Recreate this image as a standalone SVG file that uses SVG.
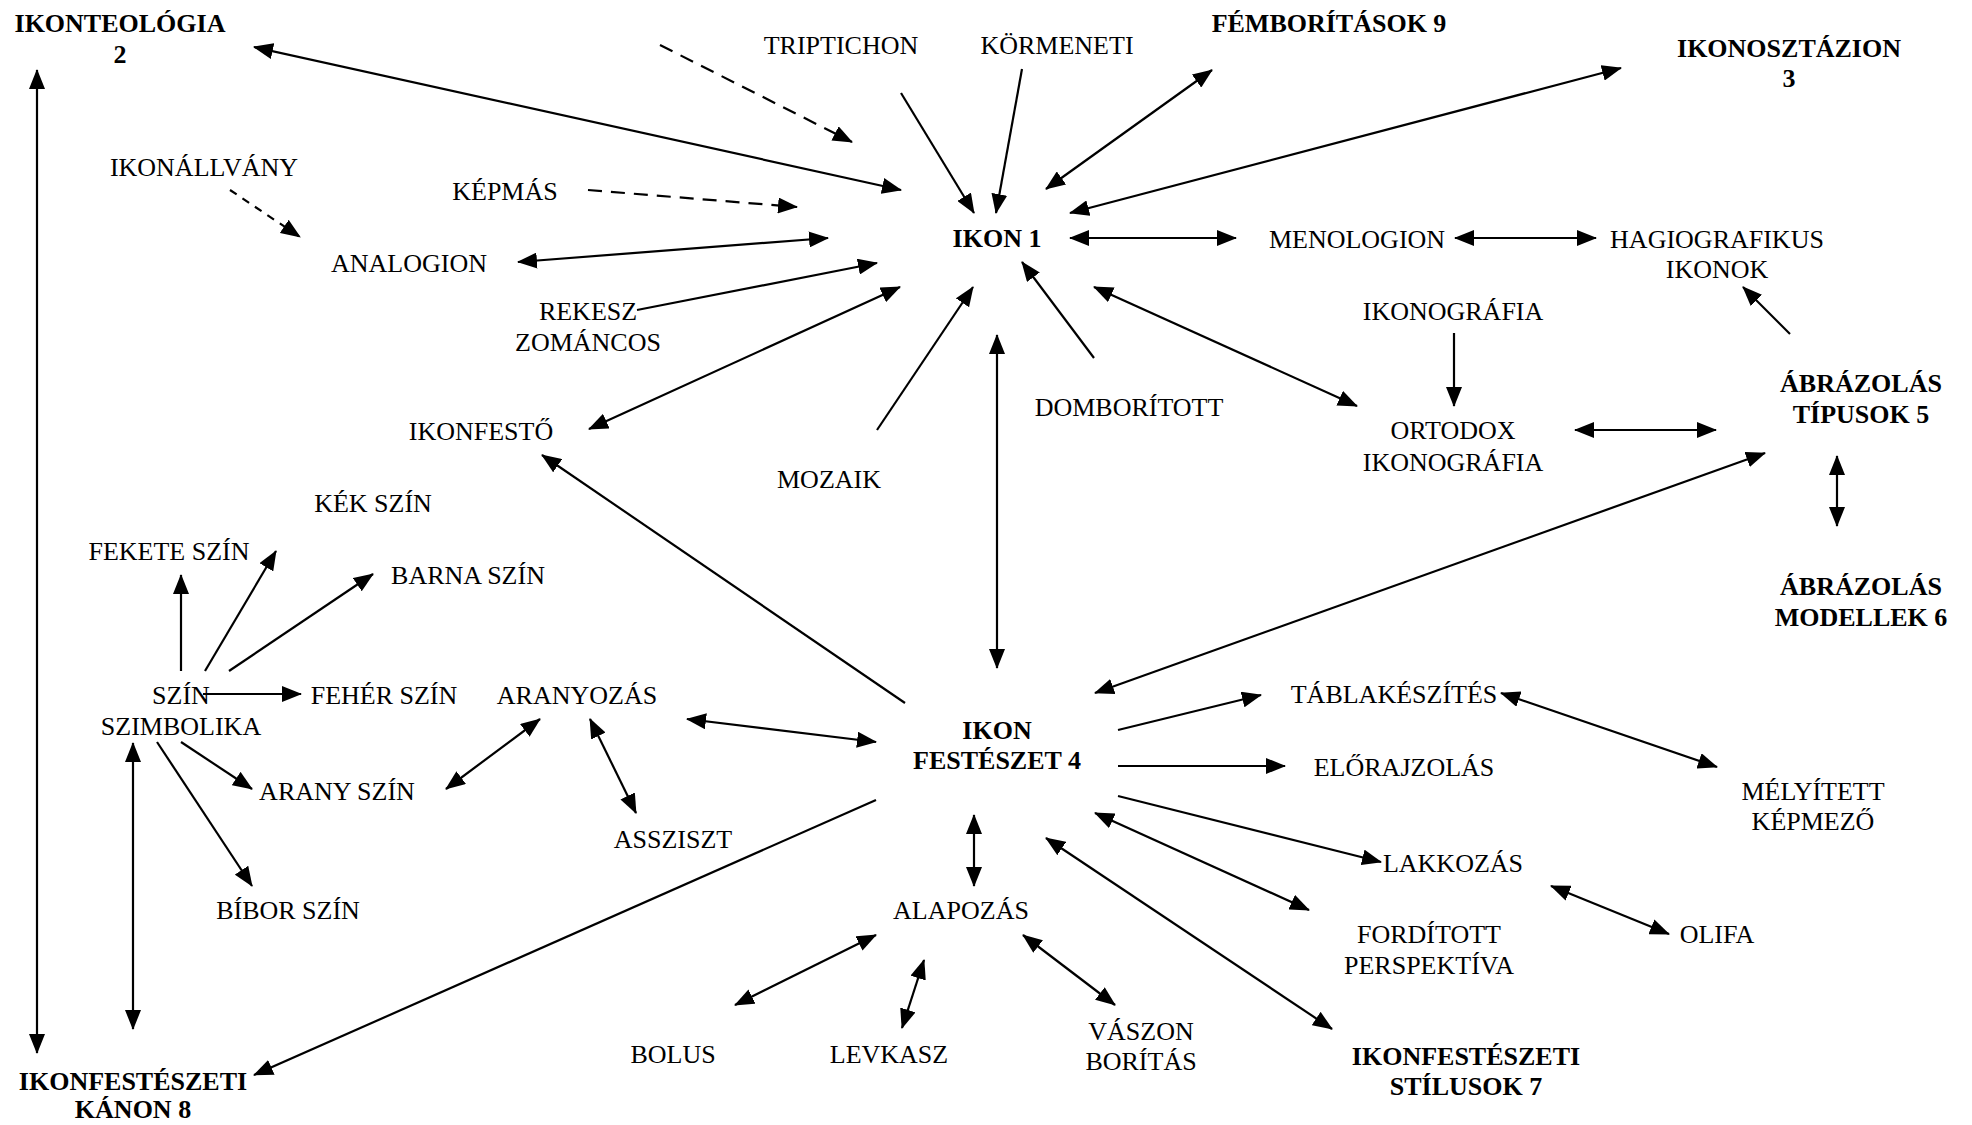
<svg xmlns="http://www.w3.org/2000/svg" width="1972" height="1125" viewBox="0 0 1972 1125">
<style>
text{font-family:"Liberation Serif","Times New Roman",serif;font-size:26px;fill:#000;text-anchor:middle}
.b{font-weight:bold}
.c line{stroke:#000;stroke-width:2.2;fill:none}
.c .one{marker-end:url(#ah)}
.c .two{marker-start:url(#ah);marker-end:url(#ah)}
.c .d1{stroke-dasharray:14 9}
.c .d2{stroke-dasharray:8 7}
</style>
<defs>
<marker id="ah" markerUnits="userSpaceOnUse" markerWidth="20" markerHeight="16" refX="19" refY="8" orient="auto-start-reverse" viewBox="0 0 20 16">
<path d="M0,0 L20,8 L0,16 z" fill="#000"/>
</marker>
</defs>
<rect width="1972" height="1125" fill="#fff"/>
<g class="c" id="connectors">
<line class="two" x1="254" y1="47" x2="901" y2="190"/>
<line class="one d1" x1="660" y1="45" x2="852" y2="142"/>
<line class="one" x1="901" y1="93" x2="974" y2="213"/>
<line class="one" x1="1022" y1="69" x2="996" y2="213"/>
<line class="two" x1="1212" y1="70" x2="1046" y2="189"/>
<line class="two" x1="1621" y1="68" x2="1070" y2="213"/>
<line class="two" x1="1070" y1="238" x2="1236" y2="238"/>
<line class="two" x1="1455" y1="238" x2="1596" y2="238"/>
<line class="one" x1="1790" y1="334" x2="1743" y2="287"/>
<line class="one" x1="1454" y1="333" x2="1454" y2="406"/>
<line class="two" x1="1094" y1="287" x2="1357" y2="406"/>
<line class="two" x1="1575" y1="430" x2="1716" y2="430"/>
<line class="two" x1="1837" y1="456" x2="1837" y2="526"/>
<line class="two" x1="1095" y1="693" x2="1765" y2="453"/>
<line class="one" x1="1094" y1="358" x2="1022" y2="262"/>
<line class="one" x1="877" y1="430" x2="973" y2="287"/>
<line class="two" x1="997" y1="668" x2="997" y2="335"/>
<line class="two" x1="589" y1="429" x2="900" y2="287"/>
<line class="one" x1="905" y1="703" x2="542" y2="455"/>
<line class="one" x1="637" y1="310" x2="877" y2="263"/>
<line class="two" x1="518" y1="262" x2="828" y2="238"/>
<line class="one d1" x1="588" y1="190" x2="797" y2="207"/>
<line class="one d2" x1="230" y1="190" x2="300" y2="237"/>
<line class="two" x1="37" y1="70" x2="37" y2="1053"/>
<line class="two" x1="133" y1="743" x2="133" y2="1029"/>
<line class="one" x1="181" y1="671" x2="181" y2="575"/>
<line class="one" x1="205" y1="671" x2="276" y2="551"/>
<line class="one" x1="229" y1="671" x2="373" y2="574"/>
<line class="one" x1="203" y1="694" x2="301" y2="694"/>
<line class="one" x1="181" y1="742" x2="252" y2="789"/>
<line class="one" x1="157" y1="742" x2="252" y2="886"/>
<line class="two" x1="446" y1="789" x2="540" y2="719"/>
<line class="two" x1="590" y1="719" x2="636" y2="813"/>
<line class="two" x1="687" y1="719" x2="876" y2="742"/>
<line class="one" x1="876" y1="800" x2="254" y2="1075"/>
<line class="two" x1="974" y1="815" x2="974" y2="886"/>
<line class="two" x1="876" y1="935" x2="735" y2="1005"/>
<line class="two" x1="924" y1="960" x2="902" y2="1028"/>
<line class="two" x1="1023" y1="935" x2="1115" y2="1005"/>
<line class="two" x1="1046" y1="838" x2="1332" y2="1029"/>
<line class="two" x1="1095" y1="813" x2="1309" y2="910"/>
<line class="one" x1="1118" y1="796" x2="1381" y2="862"/>
<line class="two" x1="1551" y1="886" x2="1669" y2="934"/>
<line class="one" x1="1118" y1="730" x2="1261" y2="695"/>
<line class="one" x1="1118" y1="766" x2="1285" y2="766"/>
<line class="two" x1="1501" y1="693" x2="1717" y2="767"/>
</g>
<g id="ikonteologia"><text class="b" x="120" y="32">IKONTEOLÓGIA</text><text class="b" x="120" y="63">2</text></g>
<g id="triptichon"><text x="841" y="54">TRIPTICHON</text></g>
<g id="kormeneti"><text x="1057" y="54">KÖRMENETI</text></g>
<g id="femboritasok"><text class="b" x="1329" y="32">FÉMBORÍTÁSOK 9</text></g>
<g id="ikonosztazion"><text class="b" x="1789" y="57">IKONOSZTÁZION</text><text class="b" x="1789" y="87">3</text></g>
<g id="ikonallvany"><text x="204" y="176">IKONÁLLVÁNY</text></g>
<g id="kepmas"><text x="505" y="200">KÉPMÁS</text></g>
<g id="ikon1"><text class="b" x="997" y="247">IKON 1</text></g>
<g id="menologion"><text x="1357" y="248">MENOLOGION</text></g>
<g id="hagiografikus"><text x="1717" y="248">HAGIOGRAFIKUS</text><text x="1717" y="278">IKONOK</text></g>
<g id="analogion"><text x="409" y="272">ANALOGION</text></g>
<g id="rekesz"><text x="588" y="320">REKESZ</text><text x="588" y="351">ZOMÁNCOS</text></g>
<g id="ikonografia"><text x="1453" y="320">IKONOGRÁFIA</text></g>
<g id="domboritott"><text x="1129" y="416">DOMBORÍTOTT</text></g>
<g id="abrazolas-tipusok"><text class="b" x="1861" y="392">ÁBRÁZOLÁS</text><text class="b" x="1861" y="423">TÍPUSOK 5</text></g>
<g id="ikonfesto"><text x="481" y="440">IKONFESTŐ</text></g>
<g id="ortodox"><text x="1453" y="439">ORTODOX</text><text x="1453" y="471">IKONOGRÁFIA</text></g>
<g id="mozaik"><text x="829" y="488">MOZAIK</text></g>
<g id="kek"><text x="373" y="512">KÉK SZÍN</text></g>
<g id="fekete"><text x="169" y="560">FEKETE SZÍN</text></g>
<g id="barna"><text x="468" y="584">BARNA SZÍN</text></g>
<g id="abrazolas-modellek"><text class="b" x="1861" y="595">ÁBRÁZOLÁS</text><text class="b" x="1861" y="626">MODELLEK 6</text></g>
<g id="szin-szimbolika"><text x="181" y="704">SZÍN</text><text x="181" y="735">SZIMBOLIKA</text></g>
<g id="feher"><text x="384" y="704">FEHÉR SZÍN</text></g>
<g id="aranyozas"><text x="577" y="704">ARANYOZÁS</text></g>
<g id="tablakeszites"><text x="1394" y="703">TÁBLAKÉSZÍTÉS</text></g>
<g id="ikonfeszet"><text class="b" x="997" y="739">IKON</text><text class="b" x="997" y="769">FESTÉSZET 4</text></g>
<g id="elorajzolas"><text x="1404" y="776">ELŐRAJZOLÁS</text></g>
<g id="arany"><text x="337" y="800">ARANY SZÍN</text></g>
<g id="melyitett"><text x="1813" y="800">MÉLYÍTETT</text><text x="1813" y="830">KÉPMEZŐ</text></g>
<g id="asszisztt"><text x="673" y="848">ASSZISZT</text></g>
<g id="lakkozas"><text x="1453" y="872">LAKKOZÁS</text></g>
<g id="bibor"><text x="288" y="919">BÍBOR SZÍN</text></g>
<g id="alapozas"><text x="961" y="919">ALAPOZÁS</text></g>
<g id="forditott"><text x="1429" y="943">FORDÍTOTT</text><text x="1429" y="974">PERSPEKTÍVA</text></g>
<g id="olifa"><text x="1717" y="943">OLIFA</text></g>
<g id="vaszon"><text x="1141" y="1040">VÁSZON</text><text x="1141" y="1070">BORÍTÁS</text></g>
<g id="bolus"><text x="673" y="1063">BOLUS</text></g>
<g id="levkasz"><text x="889" y="1063">LEVKASZ</text></g>
<g id="kanon"><text class="b" x="133" y="1090">IKONFESTÉSZETI</text><text class="b" x="133" y="1118">KÁNON 8</text></g>
<g id="stilusok"><text class="b" x="1466" y="1065">IKONFESTÉSZETI</text><text class="b" x="1466" y="1095">STÍLUSOK 7</text></g>
</svg>
